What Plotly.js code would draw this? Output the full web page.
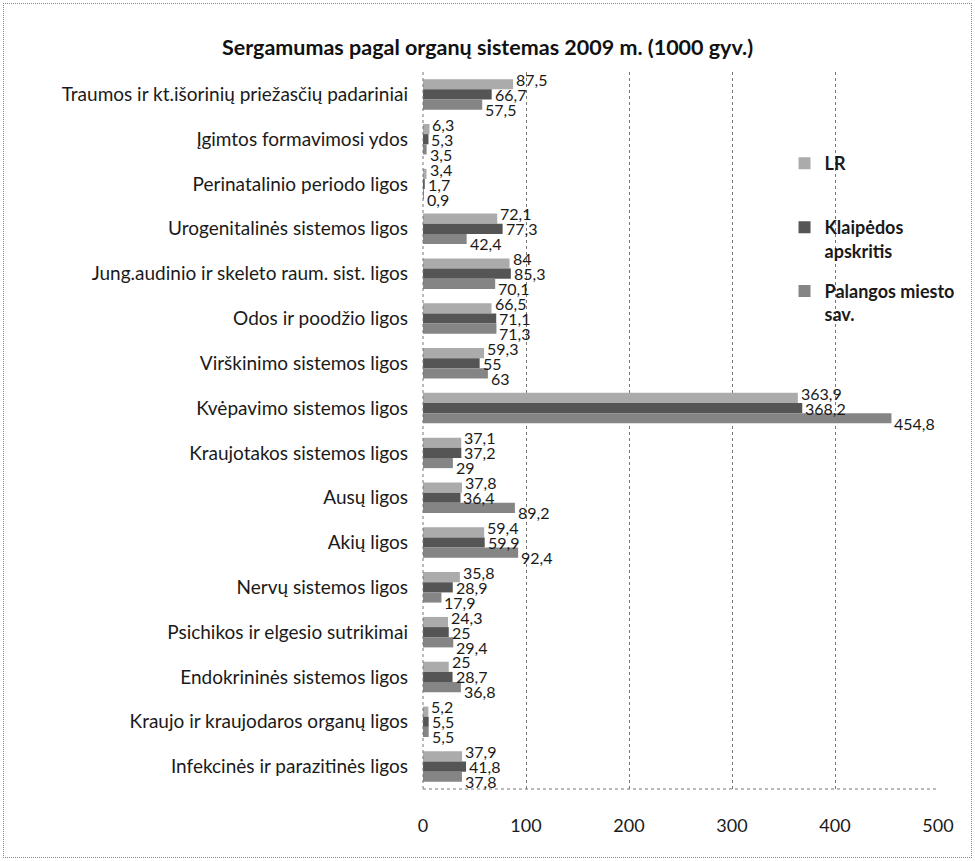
<!DOCTYPE html>
<html>
<head>
<meta charset="utf-8">
<script src="https://cdn.plot.ly/plotly-3.0.1.min.js"></script>
<style>
  html, body { margin: 0; padding: 0; background: #fff; }
  #wrap { position: relative; width: 975px; height: 861px; }
  #chart { width: 975px; height: 861px; }
  #frame { position: absolute; left: 3px; top: 3px; width: 967px; height: 853px; border: 1px dotted #888; pointer-events: none; }
</style>
</head>
<body>
<div id="wrap"><div id="chart"></div><div id="frame"></div></div>
<script>
const categories = [
  "Traumos ir kt.išorinių priežasčių padariniai",
  "Įgimtos formavimosi ydos",
  "Perinatalinio periodo ligos",
  "Urogenitalinės sistemos ligos",
  "Jung.audinio ir skeleto raum. sist. ligos",
  "Odos ir poodžio ligos",
  "Virškinimo sistemos ligos",
  "Kvėpavimo sistemos ligos",
  "Kraujotakos sistemos ligos",
  "Ausų ligos",
  "Akių ligos",
  "Nervų sistemos ligos",
  "Psichikos ir elgesio sutrikimai",
  "Endokrininės sistemos ligos",
  "Kraujo ir kraujodaros organų ligos",
  "Infekcinės ir parazitinės ligos"
];
const seriesNames = ["LR", "Klaipėdos<br>apskritis", "Palangos miesto<br>sav."];
const lr        = [87.5, 6.3, 3.4, 72.1, 84, 66.5, 59.3, 363.9, 37.1, 37.8, 59.4, 35.8, 24.3, 25, 5.2, 37.9];
const klaipeda  = [66.7, 5.3, 1.7, 77.3, 85.3, 71.1, 55, 368.2, 37.2, 36.4, 59.9, 28.9, 25, 28.7, 5.5, 41.8];
const palanga   = [57.5, 3.5, 0.9, 42.4, 70.1, 71.3, 63, 454.8, 29, 89.2, 92.4, 17.9, 29.4, 36.8, 5.5, 37.8];
const xTicks = [0, 100, 200, 300, 400, 500];
const colors = ["#ababab", "#555555", "#858585"];

const FONT = "Lato, 'Open Sans', sans-serif";
const fmt = v => String(v).replace(".", ",");

const allSeries = [lr, klaipeda, palanga];
const traces = allSeries.map((vals, i) => ({
  type: "bar",
  orientation: "h",
  name: i === 0 ? seriesNames[i] + "<br>&nbsp;" : seriesNames[i],
  legendgroup: "g" + i,
  y: categories,
  x: vals,
  marker: { color: colors[i], line: { width: 0 } },
  hoverinfo: "x+y"
}));

// data labels, staggered vertically like the reference
const labelShift = [15, 0, -15];
const annotations = [];
allSeries.forEach((vals, i) => {
  vals.forEach((v, j) => {
    annotations.push({
      x: v, y: categories[j], xref: "x", yref: "y",
      text: fmt(v), showarrow: false,
      xanchor: "left", yanchor: "middle",
      xshift: 2, yshift: labelShift[i], borderpad: 0,
      font: { family: FONT, size: 16, color: "#1a1a1a" }
    });
  });
});

const layout = {
  width: 975,
  height: 861,
  paper_bgcolor: "#ffffff",
  plot_bgcolor: "#ffffff",
  margin: { l: 423, r: 37, t: 72, b: 72, autoexpand: false },
  barmode: "group",
  bargap: 0.32,
  bargroupgap: 0,
  font: { family: FONT, size: 18, color: "#1a1a1a" },
  title: {
    text: "<b>Sergamumas pagal organų sistemas 2009 m. (1000 gyv.)</b>",
    font: { family: FONT, size: 21.5, color: "#111" },
    x: 0.5, xref: "container", y: 0.945, yref: "container", yanchor: "middle"
  },
  xaxis: {
    range: [0, 500],
    tickvals: xTicks,
    ticktext: xTicks.map(String),
    showgrid: true,
    gridcolor: "#777",
    griddash: "dot",
    gridwidth: 1,
    zeroline: false,
    showline: false,
    ticks: "",
    ticklabelstandoff: 24,
    automargin: false,
    tickfont: { family: FONT, size: 18, color: "#1a1a1a" },
    fixedrange: true
  },
  yaxis: {
    type: "category",
    categoryarray: categories,
    range: [categories.length - 0.5, -0.5],
    showgrid: false,
    zeroline: false,
    showline: false,
    ticks: "",
    ticklabelstandoff: 14,
    automargin: false,
    tickfont: { family: FONT, size: 19, color: "#1a1a1a" },
    fixedrange: true
  },
  annotations: annotations,
  shapes: [
    { type: "line", xref: "paper", yref: "paper", x0: 0, x1: 1, y0: 0, y1: 0,
      line: { color: "#777", width: 1, dash: "dot" } },
    { type: "line", xref: "paper", yref: "paper", x0: 0, x1: 0, y0: 0, y1: 1,
      line: { color: "#777", width: 1, dash: "dot" } }
  ],
  showlegend: true,
  legend: {
    x: 0.702, xanchor: "left",
    y: 0.898, yanchor: "top",
    bgcolor: "rgba(0,0,0,0)",
    font: { family: FONT, size: 18, color: "#1a1a1a", weight: "bold" },
    valign: "top",
    itemwidth: 30,
    tracegroupgap: 14
  }
};

Plotly.newPlot("chart", traces, layout, { displayModeBar: false, staticPlot: true });
</script>
</body>
</html>
